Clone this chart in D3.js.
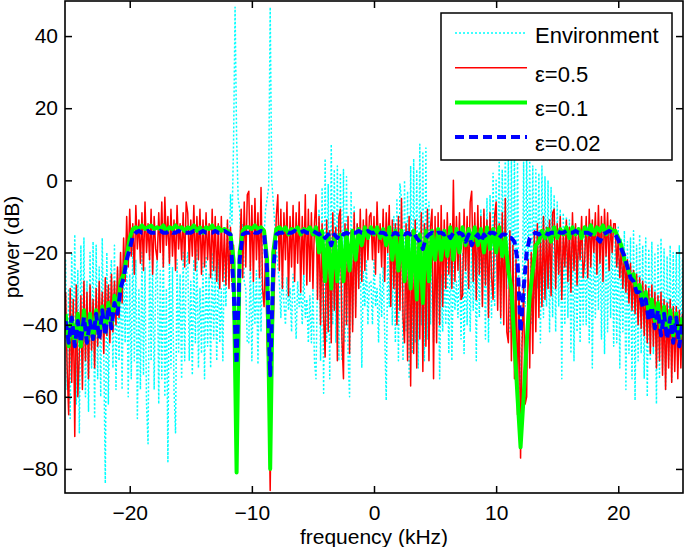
<!DOCTYPE html>
<html><head><meta charset="utf-8">
<script src="https://cdn.jsdelivr.net/npm/d3@7"></script>
<style>
body{margin:0;background:#fff}
svg{display:block}
text{font-family:"Liberation Sans",Arial,Helvetica,sans-serif;fill:#000}
</style>
</head><body>
<svg id="chart" width="685" height="547"></svg>
<script>
// frequency grid (kHz): first sample and spacing of each series
const freqStart = -25.25;
const fineStep = 0.125;   // Environment and eps=0.5
const coarseStep = 0.25;  // eps=0.1 and eps=0.02

// power (dB) per frequency sample
const environment = [
 -22,-58,-30,-66,-20,-48,-15,-62,-25,-70,-18,-55,-16,-60,-28,-64,-20,-52,-17,-66,
 -18,-55,-24,-60,-16,-48,-84,-20,-62,-30,-22,-52,-18,-58,-25,-50,-24,-58,-20,-45,
 -20,-60,-26,-55,-18,-50,-22,-66,-30,-58,-20,-54,-24,-62,-73,-19,-50,-22,-58,-28,
 -21,-62,-25,-55,-19,-60,-30,-78,-20,-52,-24,-58,-70,-22,-48,-26,-55,-20,-50,-24,
 -20,-50,-28,-54,-22,-45,-19,-52,-30,-48,-23,-55,-21,-46,-26,-52,-20,-44,-24,-50,
 -22,-45,-30,-50,-18,-35,-12,-25,-4,-12,10,48,12,-5,-8,-20,-12,-28,-30,-45,
 -45,-22,-50,-28,-40,-25,-51,-20,-42,-18,-15,-8,-5,-2,48,0,-6,-12,-18,-24,
 -28,-38,-25,-34,-40,-27,-36,-30,-42,-26,-32,-44,-28,-35,-30,-40,-26,-38,-33,-45,
 -32,-45,-30,-50,-55,-25,-8,-50,-2,-59,6,-45,-1,-55,10,-40,3,-45,4,-50,
 2,-50,3,-45,1,-48,-60,-3,-40,-7,-35,-12,-30,-18,-52,-25,-35,-22,-40,-28,
 -28,-40,-22,-35,-30,-45,-26,-38,-24,-42,-61,-20,-35,-15,-40,-10,-45,-5,-50,-1,
 -5,-50,0,-42,-3,-55,4,-48,6,-45,3,-52,10,-40,8,-50,9,-44,-6,-40,
 -20,-45,-24,-38,-22,-55,-26,-42,-25,-40,-19,-48,-18,-50,-23,-36,-28,-38,-21,-44,
 -20,-48,-18,-40,-15,-42,-16,-36,-12,-50,-11,-38,-8,-35,-9,-44,-5,-45,-4,-38,
 2,-35,0,-28,5,-40,3,-32,8,-30,6,-42,7,-36,8,-45,5,-38,-60,-40,
 5,-35,7,-28,6,-40,4,-33,3,-30,2,-45,4,-38,1,-35,0,-42,-2,-38,
 -4,-42,-6,-35,-8,-55,-9,-40,-10,-38,-11,-48,-12,-50,-12,-42,-13,-45,-14,-40,
 -14,-40,-13,-45,-12,-52,-15,-38,-13,-36,-14,-44,-13,-48,-15,-42,-14,-38,-13,-46,
 -15,-45,-13,-52,-16,-42,-14,-58,-17,-48,-16,-55,-14,-61,-18,-50,-15,-48,-18,-55,
 -16,-60,-19,-50,-17,-48,-20,-62,-18,-55,-16,-52,-19,-58,-21,-50,-18,-56,-20,-45,
 -20,-52,-18,-48,-22
];
const eps05 = [
 -31,-52,-65,-30,-56,-33,-71,-29,-60,-48,-32,-58,-28,-50,-31,-55,-29,-47,-33,-52,
 -30,-46,-28,-44,-31,-48,-27,-43,-29,-45,-26,-42,-28,-40,-24,-38,-20,-34,-16,-28,
 -10,-24,-8,-21,-12,-26,-7,-19,-11,-23,-9,-25,-6,-20,-12,-22,-8,-26,-10,-19,
 -22,-9,-20,-6,-24,-4.7,-18,-10,-23,-8,-21,-11,-25,-7,-19,-12,-22,-9,-24,-6,
 -9,-23,-11,-21,-7,-25,-10,-22,-8,-26,-11,-24,-9,-22,-12,-27,-8,-25,-10,-28,
 -12,-30,-10,-28,-14,-29,-11,-30,-13,-28,-18,-35,-50,-30,-20,-8,-27,-6,-24,-4,
 -3,-25,-7,-28,-5,-22,-9,-27,-2,-30,-35,-20,-45,-55,-86,-50,-40,-25,-10,-4,
 -25,-8,-30,-9,-22,-6,-32,-10,-24,-7,-28,-9,-23,-6,-31,-10,-26,-4,-29,-8,
 -28,-9,-30,-12,-4,-33,-10,-40,-12,-38,-49,-11,-42,-14,-45,-9,-36,-13,-50,-10,
 -8,-44,-55,-12,-40,-10,-48,-14,-42,-9,-38,-12,-30,-8,-28,-11,-25,-8,-22,-10,
 -9,-22,-10,-26,-6,-20,-12,-24,-8,-28,-9,-20,-7,-35,-11,-30,-12,-40,-10,-36,
 -5,-38,-45,-12,-50,-10,-57,-14,-48,-11,-52,-15,-44,-9,-53,-12,-46,-8,-50,-13,
 -8,-55,-10,-45,-9,-40,-7,-35,-11,-30,-9,-26,-12,-30,0,-28,-10,-25,-9,-33,
 -32,-8,-25,-10,-30,-6,-3,-28,-9,-33,-7,-26,-10,-35,-8,-29,-11,-38,-9,-27,
 -33,-10,-6,-36,-12,-38,-9,-40,-5,-42,-45,-14,-50,-18,-55,-22,-65,-28,-77,-45,
 -30,-62,-60,-22,-52,-20,-48,-14,-42,-12,-38,-15,-35,-10,-33,-13,-30,-11,-32,-9,
 -8,-30,-12,-26,-10,-33,-14,-24,-11,-28,-13,-31,-9,-25,-12,-29,-14,-22,-10,-27,
 -22,-10,-27,-8,-24,-11,-20,-9,-26,-7,-23,-10,-28,-8,-21,-9,-25,-11,-20,-12,
 -12,-24,-16,-27,-18,-30,-20,-31,-22,-34,-23,-36,-25,-37,-26,-40,-27,-41,-28,-43,
 -29,-45,-30,-48,-29,-46,-31,-52,-32,-50,-31,-54,-33,-58,-34,-52,-33,-56,-35,-53,
 -35,-55,-36,-52,-37
];
const eps01 = [
 -37,-46,-38,-45,-37,-46,-36,-45,-37,-44,
 -36,-43,-35,-42,-34,-40,-32,-36,-28,-26,
 -21,-16,-13.5,-13,-13.5,-12.5,-13.5,-13,-12.5,-13.5,
 -13,-13.5,-12.5,-14,-13,-13.5,-12.5,-13.5,-13,-14,
 -13,-13.5,-12.5,-14,-13,-14.5,-13,-13.5,-12.5,-14,
 -13,-14,-13.5,-14,-15,-22,-81,-20,-14,-13,
 -13,-13.5,-12.5,-13.5,-13,-14,-22,-80,-20,-13.5,
 -13,-14,-13,-15,-13.5,-14,-13,-15,-13.5,-14,
 -13,-15,-13,-20,-14,-28,-15,-30,-16,-28,
 -15,-28,-14,-25,-14,-22,-13.5,-18,-13,-16,
 -13,-15,-13,-16,-13.5,-18,-13,-22,-14,-25,
 -14,-28,-15,-30,-14,-33,-15,-34,-14,-28,
 -14,-22,-13.5,-22,-14,-21,-13,-22,-13.5,-20,
 -13,-18,-13.5,-17,-13,-18,-13.5,-20,-13,-19,
 -13.5,-20,-13,-21,-16,-25,-30,-45,-60,-74,
 -60,-45,-32,-25,-18,-17,-14,-16,-13.5,-17,
 -13,-16,-13.5,-15,-13,-16,-13,-15,-13.5,-16,
 -13,-15,-12.5,-15,-13,-14,-12.5,-15,-13,-14,
 -14,-16,-18,-22,-24,-27,-26,-31,-29,-34,
 -31,-37,-33,-39,-34,-41,-35,-42,-36,-43,
 -37,-44,-38
];
const eps002 = [
 -39,-45,-38,-46,-39,-45,-38,-45,-39,-44,
 -37,-44,-36,-43,-35,-41,-34,-37,-30,-27,
 -22,-19,-15.5,-14.5,-14,-14.5,-14.5,-14,-14.5,-14.5,
 -14.5,-14,-14.5,-14.5,-14,-14.5,-14.5,-14,-14.5,-14.5,
 -14.5,-14.5,-14,-14.5,-14.5,-14,-14.5,-14.5,-14.5,-14,
 -14.5,-14.5,-14,-14.5,-15,-30,-51,-22,-15,-14.5,
 -14.5,-14,-14.5,-14.5,-14,-14.5,-25,-54,-25,-15,
 -14.5,-14.5,-14,-14.5,-14.5,-14,-14.5,-14.5,-14,-14.5,
 -14.5,-14,-14.5,-15,-14.5,-16,-15,-18,-15,-16,
 -14.5,-15,-14.5,-15,-14.5,-14.5,-14,-14.5,-14.5,-14,
 -14.5,-14.5,-14,-14.5,-14.5,-15,-14.5,-15,-14.5,-15,
 -14.5,-15,-14.5,-15,-14.5,-16,-17,-19,-16,-15,
 -14.5,-15,-14.5,-14.5,-15,-14.5,-16,-14.5,-15,-14.5,
 -15,-17,-15,-18,-16,-15,-17,-15,-16,-14.5,
 -14.5,-15,-16,-15,-15,-16,-16,-17,-22,-42,
 -30,-20,-16,-15,-14.5,-15,-14.5,-14.5,-15,-14.5,
 -14.5,-14,-14.5,-14.5,-14,-14.5,-14.5,-14,-14.5,-14.5,
 -14.5,-14.5,-15,-15.5,-16,-17,-15,-14.5,-14,-14.5,
 -15,-16.5,-19,-21,-24,-27,-28,-31,-31,-35,
 -33,-39,-35,-41,-36,-43,-37,-44,-38,-45,
 -38,-46,-39
];

const seriesNames = ["Environment", "\u03b5=0.5", "\u03b5=0.1", "\u03b5=0.02"];
const xTicks = [-20, -10, 0, 10, 20];
const yTicks = [-80, -60, -40, -20, 0, 20, 40];
const xLabel = "frequency (kHz)";
const yLabel = "power (dB)";

const allSeries = [environment, eps05, eps01, eps002];
const steps = [fineStep, fineStep, coarseStep, coarseStep];
const styles = [
  {color: "#00ffff", width: 1.5, dash: "2,2"},
  {color: "#ff0000", width: 1.5, dash: null},
  {color: "#00ff00", width: 4, dash: null},
  {color: "#0000ff", width: 4, dash: "9,5"}
];

const svg = d3.select("#chart");
const L = 65, R = 683, T = 1, B = 493;
const x = d3.scaleLinear().domain([-25.3, 25.3]).range([L, R]);
const y = d3.scaleLinear().domain([-86.67, 49.72]).range([B, T]);

svg.append("defs").append("clipPath").attr("id", "plotclip")
  .append("rect").attr("x", L).attr("y", T).attr("width", R - L).attr("height", B - T);

const plot = svg.append("g").attr("clip-path", "url(#plotclip)");

allSeries.forEach((s, k) => {
  const line = d3.line()
    .x((d, i) => x(freqStart + i * steps[k]))
    .y(d => y(d));
  plot.append("path")
    .datum(s)
    .attr("d", line)
    .attr("fill", "none")
    .attr("stroke", styles[k].color)
    .attr("stroke-width", styles[k].width)
    .attr("stroke-linejoin", "round")
    .attr("stroke-dasharray", styles[k].dash);
});

// axes (MATLAB style, ticks inside, box on)
const fs = 21;
const gL = svg.append("g").attr("transform", `translate(${L},0)`)
  .call(d3.axisLeft(y).tickValues(yTicks).tickSize(-7).tickPadding(7).tickSizeOuter(0));
const gB = svg.append("g").attr("transform", `translate(0,${B})`)
  .call(d3.axisBottom(x).tickValues(xTicks).tickSize(-7).tickPadding(12).tickSizeOuter(0));
const gR = svg.append("g").attr("transform", `translate(${R},0)`)
  .call(d3.axisRight(y).tickValues(yTicks).tickSize(-7).tickFormat("").tickSizeOuter(0));
const gT = svg.append("g").attr("transform", `translate(0,${T})`)
  .call(d3.axisTop(x).tickValues(xTicks).tickSize(-7).tickFormat("").tickSizeOuter(0));
[gL, gB, gR, gT].forEach(g => {
  g.select(".domain").remove();
  g.selectAll(".tick line").attr("stroke", "#000").attr("stroke-width", 1.5);
  g.selectAll("text").attr("font-size", fs).attr("font-family", "Liberation Sans, Arial, sans-serif").attr("fill", "#000");
});
svg.append("rect").attr("x", L).attr("y", T).attr("width", R - L).attr("height", B - T)
  .attr("fill", "none").attr("stroke", "#000").attr("stroke-width", 1.6);

svg.append("text").attr("x", (L + R) / 2).attr("y", 544).attr("text-anchor", "middle")
  .attr("font-size", 21).text(xLabel);
svg.append("text").attr("transform", `translate(19,${(T + B) / 2}) rotate(-90)`)
  .attr("text-anchor", "middle").attr("font-size", 21).text(yLabel);

// legend
const lg = svg.append("g");
lg.append("rect").attr("x", 441).attr("y", 13).attr("width", 231).attr("height", 147)
  .attr("fill", "#fff").attr("stroke", "#000").attr("stroke-width", 1.5);
seriesNames.forEach((name, k) => {
  const ly = 33 + k * 34.7;
  lg.append("line").attr("x1", 455).attr("x2", 527).attr("y1", ly).attr("y2", ly)
    .attr("stroke", styles[k].color).attr("stroke-width", styles[k].width)
    .attr("stroke-dasharray", styles[k].dash);
  lg.append("text").attr("x", 535).attr("y", ly + (k === 0 ? 10 : 14))
    .attr("font-size", 22).text(name);
});
</script>
</body></html>
